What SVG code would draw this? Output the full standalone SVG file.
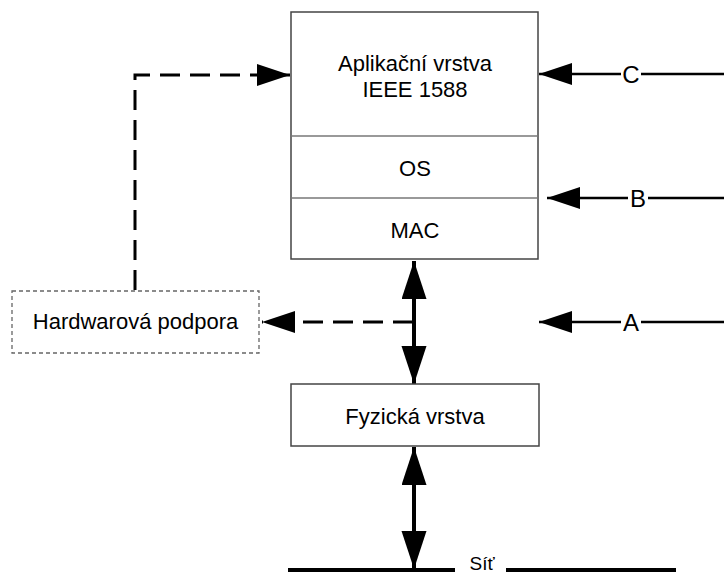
<svg xmlns="http://www.w3.org/2000/svg" width="724" height="575" viewBox="0 0 724 575">
  <style>
    .lbl { font-family: "Liberation Sans", Arial, sans-serif; font-size: 22px; fill: #000; text-anchor: middle; }
    .net { font-family: "Liberation Sans", Arial, sans-serif; font-size: 19px; fill: #000; text-anchor: middle; }
    .tag { font-family: "Liberation Sans", Arial, sans-serif; font-size: 24px; fill: #000; text-anchor: middle; }
    .box { fill: #fff; stroke: #444; stroke-width: 1.5; }
    .div { stroke: #777; stroke-width: 1.5; }
    .hw { fill: #fff; stroke: #666; stroke-width: 1.3; stroke-dasharray: 4 3; }
    .solid { fill: none; stroke: #000; stroke-width: 2.5; }
    .thick { fill: none; stroke: #000; stroke-width: 4; }
    .dash { fill: none; stroke: #000; stroke-width: 3; stroke-dasharray: 20 10; }
  </style>
  <defs>
    <marker id="head" markerUnits="userSpaceOnUse" markerWidth="34" markerHeight="24" refX="33" refY="11" orient="auto">
      <path d="M0,0 L33,11 L0,22 z" fill="#000"/>
    </marker>
    <marker id="headBig" markerUnits="userSpaceOnUse" markerWidth="40" markerHeight="26" refX="38" refY="12.5" orient="auto-start-reverse">
      <path d="M0,0 L38,12.5 L0,25 z" fill="#000"/>
    </marker>
  </defs>

  <rect width="724" height="575" fill="#fff"/>

  <!-- connectors -->
  <g id="connectors">
    <!-- external inputs C, B, A -->
    <line class="solid" x1="724" y1="74" x2="539" y2="74" marker-end="url(#head)"/>
    <line class="solid" x1="724" y1="198" x2="547" y2="198" marker-end="url(#head)"/>
    <line class="solid" x1="724" y1="322" x2="539" y2="322" marker-end="url(#head)"/>
    <rect x="621" y="60" width="20" height="28" fill="#fff"/>
    <text class="tag" x="631" y="83">C</text>
    <rect x="628" y="184" width="20" height="28" fill="#fff"/>
    <text class="tag" x="638" y="207">B</text>
    <rect x="621" y="308" width="20" height="28" fill="#fff"/>
    <text class="tag" x="631" y="331">A</text>

    <!-- hardware support feedback to application layer -->
    <path class="dash" d="M135,290 V75 H290" marker-end="url(#head)"/>
    <!-- tap from MAC / PHY link to hardware support -->
    <line class="dash" x1="413" y1="322" x2="262" y2="322" marker-end="url(#head)"/>

    <!-- MAC <-> physical layer -->
    <line class="thick" x1="414" y1="261" x2="414" y2="384" marker-start="url(#headBig)" marker-end="url(#headBig)"/>
    <!-- physical layer <-> network -->
    <line class="thick" x1="414" y1="447" x2="414" y2="569" marker-start="url(#headBig)" marker-end="url(#headBig)"/>

    <!-- network bus -->
    <line class="thick" x1="288" y1="570" x2="455" y2="570"/>
    <line class="thick" x1="506" y1="570" x2="676" y2="570"/>
    <text class="net" x="482" y="570">Síť</text>
  </g>

  <!-- protocol stack -->
  <g id="stack">
    <rect class="box" x="291" y="12" width="247" height="247"/>
    <line class="div" x1="291" y1="136" x2="538" y2="136"/>
    <line class="div" x1="291" y1="198" x2="538" y2="198"/>
  </g>
  <g id="app-layer">
    <text class="lbl" x="415" y="71">Aplikační vrstva</text>
    <text class="lbl" x="415" y="97">IEEE 1588</text>
  </g>
  <g id="os">
    <text class="lbl" x="415" y="176">OS</text>
  </g>
  <g id="mac">
    <text class="lbl" x="415" y="238">MAC</text>
  </g>

  <g id="phy">
    <rect class="box" x="291" y="384" width="248" height="62"/>
    <text class="lbl" x="415" y="424">Fyzická vrstva</text>
  </g>

  <g id="hw-support">
    <rect class="hw" x="12" y="291" width="247" height="62"/>
    <text class="lbl" x="135.5" y="329">Hardwarová podpora</text>
  </g>
</svg>
